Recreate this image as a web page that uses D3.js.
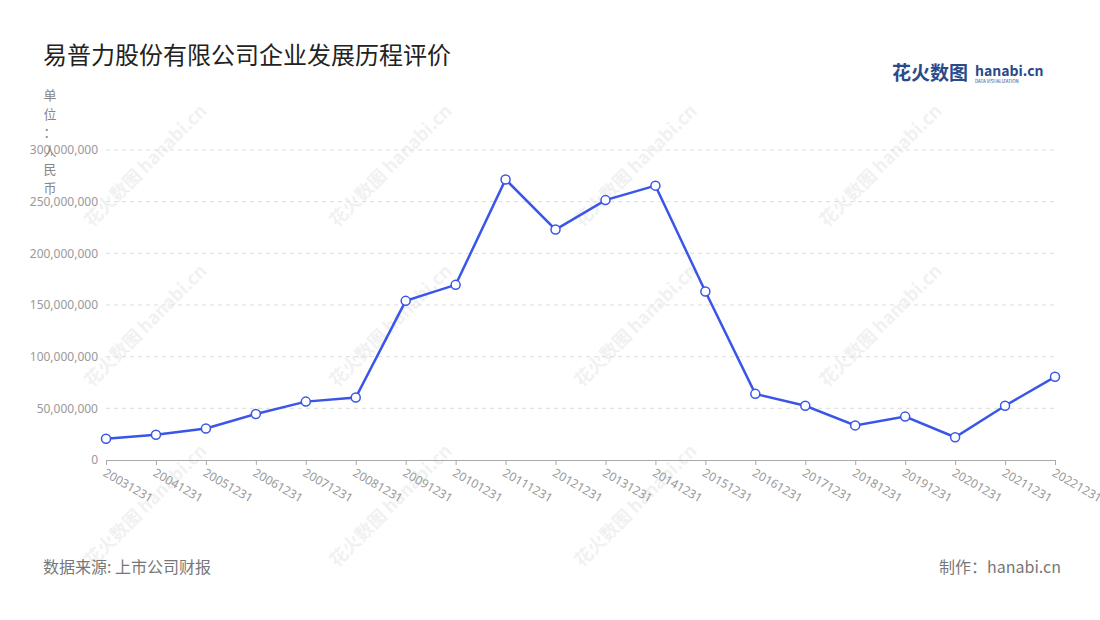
<!DOCTYPE html>
<html><head><meta charset="utf-8">
<script src="https://cdn.jsdelivr.net/npm/d3@7"></script>
<style>body{margin:0;background:#fff;font-family:"Noto Sans CJK SC","Noto Sans",sans-serif}</style>
</head><body><svg id="c" width="1100" height="620"></svg>
<script>
const categories=["20031231","20041231","20051231","20061231","20071231","20081231","20091231","20101231","20111231","20121231","20131231","20141231","20151231","20161231","20171231","20181231","20191231","20201231","20211231","20221231"];
const values=[20500000,24500000,30500000,44500000,56500000,60500000,154000000,169500000,271500000,223000000,251500000,265500000,163000000,64000000,52500000,33500000,42000000,22000000,52500000,80500000];
const yTicks=[0,50000000,100000000,150000000,200000000,250000000,300000000];
const svg=d3.select("#c");
const x=d3.scalePoint().domain(categories).range([106,1055]);
const y=d3.scaleLinear().domain([0,300000000]).range([460,150]);
const wm=[[150,170],[395,170],[640,170],[885,170],[150,330],[395,330],[640,330],[885,330],[150,510],[395,510],[640,510]];
wm.forEach(([a,b])=>svg.append("text").attr("x",a).attr("y",b).attr("transform",`rotate(-45,${a},${b})`).attr("text-anchor","middle").attr("font-size",18).attr("font-weight","bold").attr("fill","#000").attr("opacity",0.05).text("花火数图 hanabi.cn"));
svg.append("text").attr("x",43).attr("y",64).attr("font-size",24).attr("fill","#222").text("易普力股份有限公司企业发展历程评价");
svg.append("text").attr("x",892).attr("y",80).attr("font-size",19).attr("font-weight","bold").attr("fill","#2a4a8a").text("花火数图");
svg.append("text").attr("x",975).attr("y",76).attr("font-size",14).attr("font-weight","bold").attr("fill","#2a4a8a").text("hanabi.cn");
svg.append("text").attr("x",975).attr("y",83).attr("font-size",4.5).attr("fill","#2a4a8a").text("DATA VISUALIZATION");
svg.append("g").selectAll("line").data(yTicks.slice(1)).join("line").attr("x1",106).attr("x2",1055).attr("y1",d=>y(d)).attr("y2",d=>y(d)).attr("stroke","#ddd").attr("stroke-dasharray","4,4");
const ya=svg.append("g").attr("transform","translate(106,0)").call(d3.axisLeft(y).tickValues(yTicks).tickFormat(d3.format(",")).tickSize(0).tickPadding(8));
ya.select(".domain").remove();
ya.selectAll("text").attr("fill","#999").attr("font-size",12).attr("font-family","Noto Sans");
const xa=svg.append("g").attr("transform","translate(0,460)").call(d3.axisBottom(x).tickSize(5));
xa.select(".domain").attr("stroke","#aaa");xa.selectAll("line").attr("stroke","#aaa");
xa.selectAll("text").attr("fill","#999").attr("font-size",12).attr("font-family","Noto Sans").attr("text-anchor","start").attr("transform","translate(4,1) rotate(30)");
["单","位","：","人","民","币"].forEach((c,i)=>svg.append("text").attr("x",50).attr("y",100+i*18.5).attr("text-anchor","middle").attr("font-size",13).attr("fill","#888").text(c));
svg.append("path").datum(values).attr("fill","none").attr("stroke","#3a56e8").attr("stroke-width",2.5)
 .attr("d",d3.line().x((d,i)=>x(categories[i])).y(d=>y(d)));
svg.append("g").selectAll("circle").data(values).join("circle").attr("cx",(d,i)=>x(categories[i])).attr("cy",d=>y(d)).attr("r",4.5).attr("fill","#fff").attr("stroke","#3a56e8").attr("stroke-width",1.5);
svg.append("text").attr("x",43).attr("y",573).attr("font-size",16).attr("fill","#777").text("数据来源: 上市公司财报");
svg.append("text").attr("x",1061).attr("y",573).attr("text-anchor","end").attr("font-size",16).attr("fill","#777").text("制作：hanabi.cn");
</script></body></html>
